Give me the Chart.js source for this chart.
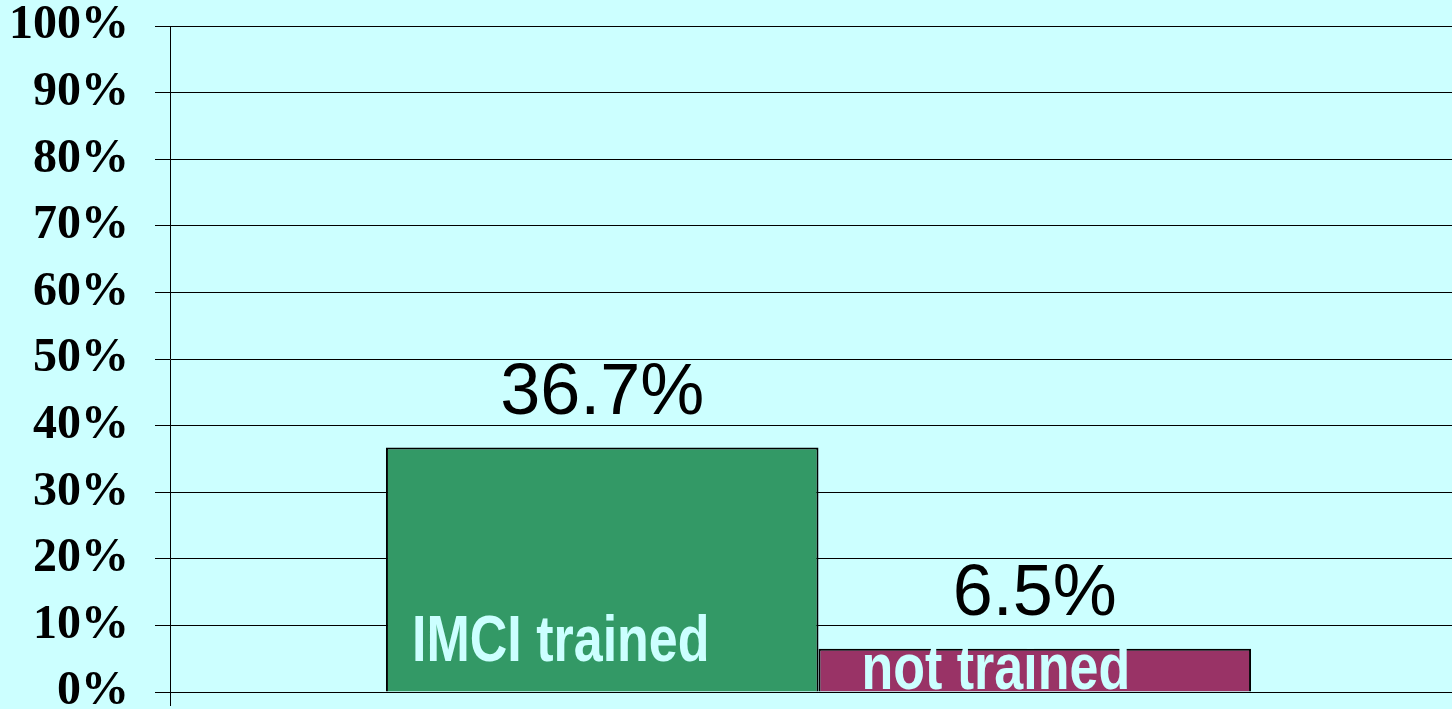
<!DOCTYPE html>
<html>
<head>
<meta charset="utf-8">
<script src="https://cdn.jsdelivr.net/npm/chart.js@4/dist/chart.umd.min.js"></script>
<style>
  html, body { margin: 0; padding: 0; background: #CCFFFF; overflow: hidden; width: 1452px; height: 709px; }
  #wrap { width: 1467px; height: 709px; }
</style>
</head>
<body>
<div id="wrap"><canvas id="c" width="1467" height="709"></canvas></div>
<script>
const categories = [''];
const seriesNames = ['IMCI trained', 'not trained'];
const trainedValues = [36.7];
const notTrainedValues = [6.5];
const valueLabels = ['36.7%', '6.5%'];
const yTickLabels = ['0%', '10%', '20%', '30%', '40%', '50%', '60%', '70%', '80%', '90%', '100%'];

const labelPlugin = {
  id: 'labels',
  afterDatasetsDraw(chart) {
    const ctx = chart.ctx;
    ctx.save();
    chart.data.datasets.forEach((ds, i) => {
      const bar = chart.getDatasetMeta(i).data[0];
      if (!bar) return;
      const left = bar.x - bar.width / 2;
      ctx.font = '72px "Liberation Sans", Arial, sans-serif';
      ctx.fillStyle = '#000';
      ctx.textAlign = 'center';
      ctx.textBaseline = 'alphabetic';
      ctx.fillText(valueLabels[i], bar.x, bar.y - 34);
      ctx.save();
      ctx.font = 'bold 65px "Liberation Sans", Arial, sans-serif';
      ctx.fillStyle = '#CCFFFF';
      ctx.textAlign = 'left';
      const tx = i === 0 ? left + 26 : left + 43;
      const ty = i === 0 ? bar.base - 31 : bar.base - 3;
      ctx.translate(tx, ty);
      ctx.scale(0.8, 1);
      ctx.fillText(seriesNames[i], 0, 0);
      ctx.restore();
    });
    ctx.restore();
  }
};

new Chart(document.getElementById('c'), {
  type: 'bar',
  data: {
    labels: categories,
    datasets: [
      { label: seriesNames[0], data: trainedValues, backgroundColor: '#339966', borderColor: '#000', borderWidth: 2 },
      { label: seriesNames[1], data: notTrainedValues, backgroundColor: '#993366', borderColor: '#000', borderWidth: 2 }
    ]
  },
  options: {
    responsive: false,
    animation: false,
    events: [],
    layout: { padding: { top: 26, bottom: 3, left: 0, right: 0 } },
    categoryPercentage: 0.667,
    barPercentage: 1,
    plugins: { legend: { display: false }, tooltip: { enabled: false } },
    scales: {
      x: {
        type: 'category',
        afterFit(s) { s.height = 14; s.paddingLeft = 0; s.paddingRight = 0; },
        grid: { display: true, drawOnChartArea: false, offset: true, tickLength: 14, color: '#000', lineWidth: 1 },
        border: { display: true, color: '#000', width: 1 },
        ticks: { display: false }
      },
      y: {
        min: 0, max: 100,
        afterFit(s) { s.width = 170; s.paddingTop = 0; s.paddingBottom = 0; },
        grid: { color: '#000', lineWidth: 1, tickLength: 15 },
        border: { color: '#000', width: 1 },
        ticks: {
          stepSize: 10,
          autoSkip: false,
          padding: 26,
          color: '#000',
          font: { family: '"Liberation Serif", "Times New Roman", serif', size: 48, weight: 'bold', lineHeight: 0.7 },
          callback: (v) => yTickLabels[Math.round(v / 10)]
        }
      }
    }
  },
  plugins: [labelPlugin]
});
</script>
</body>
</html>
